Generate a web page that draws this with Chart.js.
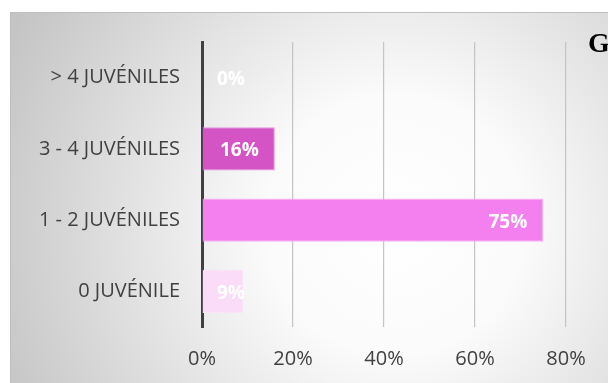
<!DOCTYPE html>
<html>
<head>
<meta charset="utf-8">
<script src="https://cdn.jsdelivr.net/npm/chart.js@4"></script>
<style>
  html, body { margin: 0; padding: 0; background: #fff; }
  #wrap { width: 608px; height: 383px; }
</style>
</head>
<body>
<div id="wrap"><canvas id="myChart" width="608" height="383"></canvas></div>
<script>
const categories = ['> 4 JUVÉNILES', '3 - 4 JUVÉNILES', '1 - 2 JUVÉNILES', '0 JUVÉNILE'];
const values = [0, 16, 75, 9];
const barColors = ['rgba(0,0,0,0)', '#D454C6', '#F480F0', '#FADBF8'];
const barBorders = ['rgba(0,0,0,0)', '#E795DE', '#F7B2F4', '#FBE3F9'];
const xTicks = [0, 20, 40, 60, 80];

// grey panel with a soft white glow in the middle
const panelBg = {
  id: 'panelBg',
  beforeDraw(chart) {
    const c = chart.ctx;
    c.save();
    const g = c.createRadialGradient(395, 225, 0, 395, 225, 430);
    g.addColorStop(0, '#FFFFFF');
    g.addColorStop(0.3, '#FBFBFB');
    g.addColorStop(1, '#C4C4C4');
    c.fillStyle = g;
    c.fillRect(10, 12, 598, 371);
    c.fillStyle = '#BEBEBE';
    c.fillRect(10, 12, 598, 1);
    c.fillRect(10, 12, 1, 371);
    c.restore();
  },
  afterDraw(chart) {
    const c = chart.ctx;
    c.save();
    c.fillStyle = '#000';
    c.font = 'bold 28px "Liberation Serif"';
    c.textBaseline = 'alphabetic';
    c.fillText('G', 588, 52);
    c.restore();
  }
};

// white percentage labels near the end of each bar
const barLabels = {
  id: 'barLabels',
  afterDatasetsDraw(chart) {
    const c = chart.ctx;
    const meta = chart.getDatasetMeta(0);
    const x0 = chart.scales.x.getPixelForValue(0);
    c.save();
    c.font = 'bold 19px "Open Sans"';
    c.fillStyle = '#FFFFFF';
    c.textBaseline = 'middle';
    c.textAlign = 'left';
    meta.data.forEach((bar, i) => {
      const txt = values[i] + '%';
      const w = c.measureText(txt).width;
      const left = Math.max(bar.x - 16 - w, x0 + 15);
      c.fillText(txt, left, bar.y + 2);
    });
    c.restore();
  }
};

new Chart(document.getElementById('myChart'), {
  type: 'bar',
  data: {
    labels: categories,
    datasets: [{
      data: values,
      backgroundColor: barColors,
      borderColor: barBorders,
      borderWidth: 1,
      borderSkipped: 'start',
      categoryPercentage: 1,
      barPercentage: 0.61
    }]
  },
  options: {
    indexAxis: 'y',
    responsive: false,
    animation: false,
    events: [],
    layout: { padding: { left: 0, top: 42, right: 42, bottom: 0 } },
    plugins: {
      legend: { display: false },
      tooltip: { enabled: false }
    },
    scales: {
      x: {
        min: 0,
        max: 80,
        afterBuildTicks(scale) {
          scale.ticks = xTicks.map(v => ({ value: v }));
        },
        afterFit(scale) { scale.height = 56; },
        ticks: {
          callback: v => v + '%',
          color: '#404040',
          font: { family: 'Open Sans', size: 20 },
          padding: 20
        },
        grid: {
          color: '#C4C4C4',
          lineWidth: 1.2,
          drawTicks: false
        },
        border: { display: false }
      },
      y: {
        afterFit(scale) { scale.width = 202; },
        ticks: {
          color: '#404040',
          font: { family: 'Open Sans', size: 20 },
          padding: 22
        },
        grid: { display: false, drawTicks: false },
        border: { display: true, color: '#404040', width: 3 }
      }
    }
  },
  plugins: [panelBg, barLabels]
});
</script>
</body>
</html>
